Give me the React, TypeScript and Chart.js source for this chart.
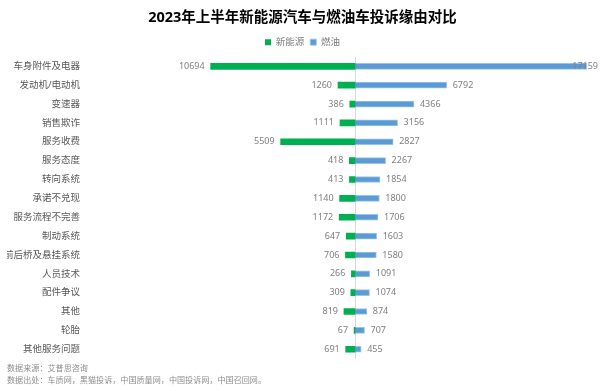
import React, { useEffect, useRef } from "react";
import { Chart, registerables } from "chart.js";

Chart.register(...registerables);

const categories = [
  "车身附件及电器",
  "发动机/电动机",
  "变速器",
  "销售欺诈",
  "服务收费",
  "服务态度",
  "转向系统",
  "承诺不兑现",
  "服务流程不完善",
  "制动系统",
  "前后桥及悬挂系统",
  "人员技术",
  "配件争议",
  "其他",
  "轮胎",
  "其他服务问题",
];
const nevValues = [10694, 1260, 386, 1111, 5509, 418, 413, 1140, 1172, 647, 706, 266, 309, 819, 67, 691];
const fuelValues = [17159, 6792, 4366, 3156, 2827, 2267, 1854, 1800, 1706, 1603, 1580, 1091, 1074, 874, 707, 455];
const seriesNames = ["新能源", "燃油"];
const titleText = "2023年上半年新能源汽车与燃油车投诉缘由对比";
const footerLines = ["数据来源：艾普思咨询", "数据出处：车质网，黑猫投诉，中国质量网，中国投诉网，中国召回网。"];

const FONT = '"Noto Sans", "Noto Sans CJK SC", sans-serif';
const GREEN = "#00B050";
const BLUE = "#5B9BD5";

const zeroLinePlugin = {
  id: "zeroLine",
  beforeDatasetsDraw(chart: any) {
    const { ctx, chartArea, scales } = chart;
    const x = Math.round(scales.x.getPixelForValue(0)) + 0.5;
    ctx.save();
    ctx.strokeStyle = "#d9d9d9";
    ctx.lineWidth = 1;
    ctx.beginPath();
    ctx.moveTo(x, chartArea.top);
    ctx.lineTo(x, chartArea.bottom);
    ctx.stroke();
    ctx.restore();
  },
};

const valueLabelPlugin = {
  id: "valueLabels",
  afterDatasetsDraw(chart: any) {
    const { ctx, chartArea } = chart;
    ctx.save();
    ctx.font = `9px ${FONT}`;
    ctx.fillStyle = "#808080";
    ctx.textBaseline = "middle";
    chart.data.datasets.forEach((ds: any, di: number) => {
      const meta = chart.getDatasetMeta(di);
      meta.data.forEach((bar: any, i: number) => {
        const text = String(Math.abs(ds.data[i]));
        const w = ctx.measureText(text).width;
        if (di === 0) {
          ctx.textAlign = "right";
          ctx.fillText(text, bar.x - 6, bar.y);
        } else {
          ctx.textAlign = "left";
          const x = Math.min(bar.x + 6, chartArea.right - w);
          ctx.fillText(text, x, bar.y);
        }
      });
    });
    ctx.restore();
  },
};

export default function App() {
  const canvasRef = useRef<HTMLCanvasElement | null>(null);

  useEffect(() => {
    document.body.style.margin = "0";
    const canvas = canvasRef.current;
    if (!canvas) return;
    const chart = new Chart(canvas, {
      type: "bar",
      data: {
        labels: categories,
        datasets: [
          {
            label: seriesNames[0],
            data: nevValues.map((v) => -v),
            backgroundColor: GREEN,
            borderColor: GREEN,
            borderWidth: 0,
            barThickness: 6,
          },
          {
            label: seriesNames[1],
            data: fuelValues,
            backgroundColor: BLUE,
            borderColor: "#9DC3E6",
            borderWidth: 1,
            barThickness: 6,
          },
        ],
      },
      options: {
        indexAxis: "y",
        responsive: false,
        animation: false,
        layout: { padding: { left: 7, right: 2, top: 0, bottom: 0 } },
        scales: {
          x: {
            display: false,
            stacked: true,
            min: -20000,
            max: 18000,
          },
          y: {
            stacked: true,
            grid: { display: false, drawTicks: false },
            border: { display: false },
            ticks: {
              padding: 5,
              color: "#595959",
              font: { family: FONT, size: 9.5 },
            },
            afterFit(scale: any) {
              scale.width = 78;
            },
          },
        },
        plugins: {
          title: {
            display: true,
            text: titleText,
            color: "#000000",
            font: { family: FONT, size: 14.5, weight: "bold" },
            padding: { top: 9, bottom: 5 },
          },
          subtitle: {
            display: true,
            position: "bottom",
            align: "start",
            text: footerLines,
            color: "#8c8c8c",
            font: { family: FONT, size: 8.1, lineHeight: 1.5 },
            padding: { top: 4, bottom: 4 },
          },
          legend: {
            display: true,
            position: "top",
            labels: {
              boxWidth: 6,
              boxHeight: 6,
              padding: 6,
              color: "#808080",
              font: { family: FONT, size: 9.5 },
            },
          },
          tooltip: { enabled: false },
        },
      },
      plugins: [zeroLinePlugin, valueLabelPlugin],
    } as any);
    return () => chart.destroy();
  }, []);

  return (
    <div style={{ width: 600, height: 391, background: "#ffffff" }}>
      <canvas ref={canvasRef} width={600} height={391} />
    </div>
  );
}
